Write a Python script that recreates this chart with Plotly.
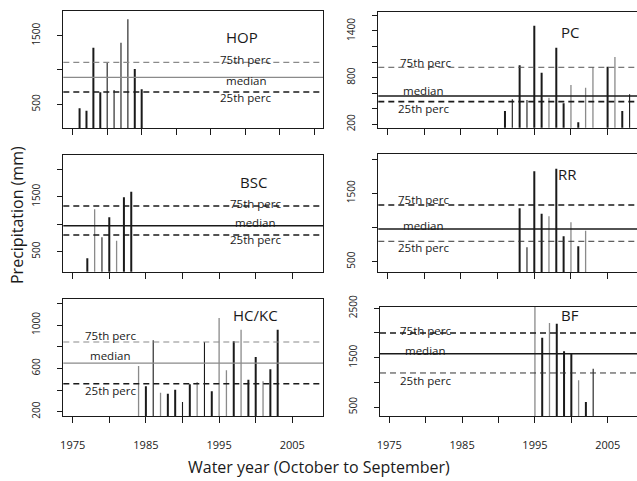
import plotly.graph_objects as go

W, H = 637, 481

# ---------------- data ----------------
hop_years = list(range(1976, 1986))
hop_precip = [442, 407, 1325, 675, 1112, 708, 1398, 1739, 1015, 719]
hop_kind = [0, 0, 0, 0, 1, 1, 1, 1, 0, 0]
hop_pct = [680, 893, 1112]          # 25th, median, 75th

pc_years = list(range(1991, 2004)) + [2005, 2006, 2007, 2008]
pc_precip = [371, 521, 959, 513, 1468, 864, 540, 1185, 470, 705, 226, 671, 933, 941, 1066, 371, 586]
pc_kind = [0, 1, 0, 1, 0, 0, 2, 0, 0, 2, 0, 2, 2, 0, 2, 0, 1]
pc_pct = [491, 564, 933]

bsc_years = list(range(1977, 1984))
bsc_precip = [380, 1271, 762, 1125, 700, 1489, 1591]
bsc_kind = [0, 2, 1, 0, 2, 0, 0]
bsc_pct = [804, 973, 1331]

rr_years = list(range(1993, 2003))
rr_precip = [1281, 711, 1822, 1202, 1164, 1860, 871, 1076, 725, 953]
rr_kind = [0, 1, 0, 0, 2, 0, 0, 2, 0, 2]
rr_pct = [798, 978, 1329]

hckc_years = list(range(1984, 2004))
hckc_precip = [621, 434, 859, 375, 366, 403, 289, 452, 474, 843,
               388, 1065, 582, 850, 957, 495, 705, 480, 591, 957]
hckc_kind = [2, 0, 1, 2, 0, 0, 1, 0, 2, 1, 0, 2, 2, 0, 2, 0, 0, 2, 0, 0]
hckc_pct = [458, 649, 843]

bf_years = list(range(1995, 2004))
bf_precip = [2550, 1904, 2201, 2187, 1629, 1581, 1043, 605, 1278]
bf_kind = [2, 0, 2, 0, 0, 0, 2, 0, 1]
bf_pct = [1191, 1581, 1999]

x_tickvals = [1975, 1980, 1985, 1990, 1995, 2000, 2005, 2010]
x_ticktext = ["1975", "", "1985", "", "1995", "", "2005", ""]
pct_labels = ["25th perc", "median", "75th perc"]

# ---------------- helpers ----------------
def px_x(p):
    return p / W

def px_y(p):
    return 1 - p / H

FONT = "Open Sans"
BLACK = "#1a1a1a"
GRAY = "#8a8a8a"
kind_style = {0: (BLACK, 2.0), 1: (BLACK, 1.1), 2: (GRAY, 1.3)}

panels = [
    dict(name="HOP", years=hop_years, vals=hop_precip, kind=hop_kind, pct=hop_pct,
         dx=(63.3, 323), dy=(10.7, 128.3), xr=(1973.64, 2011.28), yr=(150, 1864),
         yt=[500, 1000, 1500], ytl=["500", "", "1500"], right=False, bottom=False,
         lines=[(BLACK, "6px,4px", 1.5), (GRAY, "solid", 1.2), (GRAY, "6px,4px", 1.2)],
         title=(241.7, 36.7), labs=[(245, 97.7), (246.7, 81), (245, 59)]),
    dict(name="PC", years=pc_years, vals=pc_precip, kind=pc_kind, pct=pc_pct,
         dx=(378.3, 637), dy=(11.7, 127.7), xr=(1973.72, 2009.01), yr=(156, 1648),
         yt=[200, 400, 600, 800, 1000, 1200, 1400, 1600],
         ytl=["200", "", "", "800", "", "", "1400", ""], right=True, bottom=False,
         lines=[(BLACK, "6px,4px", 1.6), (BLACK, "solid", 1.6), ("#555555", "6px,4px", 1.0)],
         title=(570, 31.7), labs=[(423.3, 108.3), (423.3, 90), (425, 62.3)]),
    dict(name="BSC", years=bsc_years, vals=bsc_precip, kind=bsc_kind, pct=bsc_pct,
         dx=(63.3, 323), dy=(155, 271.7), xr=(1973.72, 2009.19), yr=(136, 2258),
         yt=[500, 1000, 1500, 2000], ytl=["500", "", "1500", ""], right=False, bottom=False,
         lines=[(BLACK, "6px,4px", 1.5), (BLACK, "solid", 1.5), (BLACK, "6px,4px", 1.5)],
         title=(253.3, 182.3), labs=[(255, 239.3), (255, 222.3), (255, 203.3)]),
    dict(name="RR", years=rr_years, vals=rr_precip, kind=rr_kind, pct=rr_pct,
         dx=(378.3, 637), dy=(154.3, 272), xr=(1973.72, 2009.01), yr=(349, 2070),
         yt=[500, 1000, 1500, 2000], ytl=["500", "", "1500", ""], right=True, bottom=False,
         lines=[("#333333", "6px,4px", 1.0), (BLACK, "solid", 1.5), (BLACK, "6px,4px", 1.5)],
         title=(567.3, 174), labs=[(423.3, 247.3), (423.3, 225), (423.3, 199.3)]),
    dict(name="HC/KC", years=hckc_years, vals=hckc_precip, kind=hckc_kind, pct=hckc_pct,
         dx=(63.3, 323), dy=(299, 416), xr=(1973.72, 2009.19), yr=(160, 1240),
         yt=[200, 400, 600, 800, 1000, 1200], ytl=["200", "", "600", "", "1000", ""],
         right=False, bottom=True,
         lines=[(BLACK, "6px,4px", 1.5), (GRAY, "solid", 1.2), (GRAY, "6px,4px", 1.2)],
         title=(255, 315), labs=[(110, 390), (110, 355.7), (110, 335.7)]),
    dict(name="BF", years=bf_years, vals=bf_precip, kind=bf_kind, pct=bf_pct,
         dx=(380, 637), dy=(306.7, 416), xr=(1973.72, 2009.02), yr=(322, 2530),
         yt=[500, 1000, 1500, 2000, 2500], ytl=["500", "", "1500", "", "2500"],
         right=True, bottom=True,
         lines=[("#333333", "6px,4px", 1.0), (BLACK, "solid", 1.5), (BLACK, "6px,4px", 1.5)],
         title=(570, 314.7), labs=[(425, 380), (425, 350), (425, 330)]),
]

fig = go.Figure()
layout = dict(
    width=W, height=H, margin=dict(l=0, r=0, t=0, b=0, pad=0, autoexpand=False),
    paper_bgcolor="white", plot_bgcolor="white", showlegend=False,
    font=dict(family=FONT, color=BLACK),
)
shapes = []
annotations = []


def label(text, x, y, size, angle=0):
    return dict(text=text, x=px_x(x), y=px_y(y), xref="paper", yref="paper",
                xanchor="center", yanchor="middle", showarrow=False, textangle=angle,
                font=dict(size=size, family=FONT, color=BLACK))


for i, p in enumerate(panels, start=1):
    xa = "x" if i == 1 else f"x{i}"
    ya = "y" if i == 1 else f"y{i}"
    xkey = "xaxis" if i == 1 else f"xaxis{i}"
    ykey = "yaxis" if i == 1 else f"yaxis{i}"

    # bars as vertical lines (type = 'h')
    for k in (2, 1, 0):
        xs, ys = [], []
        for yr_, v, kk in zip(p["years"], p["vals"], p["kind"]):
            if kk == k:
                xs += [yr_, yr_, None]
                ys += [0, v, None]
        if xs:
            col, w = kind_style[k]
            fig.add_trace(go.Scatter(x=xs, y=ys, mode="lines", xaxis=xa, yaxis=ya,
                                     line=dict(color=col, width=w), hoverinfo="skip"))

    # percentile lines
    for val, (col, dash, w) in zip(p["pct"], p["lines"]):
        shapes.append(dict(type="line", xref=f"{xa} domain", yref=ya, x0=0, x1=1,
                           y0=val, y1=val, line=dict(color=col, dash=dash, width=w), layer="above"))

    layout[xkey] = dict(
        domain=[px_x(p["dx"][0]), px_x(p["dx"][1])], anchor=ya, range=list(p["xr"]),
        automargin=False,
        showgrid=False, zeroline=False, showline=True, mirror=True,
        linecolor=BLACK, linewidth=1.2, ticks="outside", ticklen=6, tickwidth=1.2,
        tickcolor=BLACK, tickvals=x_tickvals,
        ticktext=x_ticktext if p["bottom"] else [""] * len(x_tickvals),
        tickfont=dict(size=11, color="#222222", family=FONT), ticklabelstandoff=13,
    )
    layout[ykey] = dict(
        domain=[px_y(p["dy"][1]), px_y(p["dy"][0])], anchor=xa, range=list(p["yr"]),
        automargin=False,
        showgrid=False, zeroline=False, showline=True, mirror=not p["right"],
        linecolor=BLACK, linewidth=1.2, ticks="outside", ticklen=5, tickwidth=1.2,
        tickcolor=BLACK, tickvals=p["yt"], ticktext=p["ytl"], tickangle=-90,
        tickfont=dict(size=10, color="#222222", family=FONT), ticklabelstandoff=13,
    )

    tx, ty = p["title"]
    annotations.append(label(p["name"], tx, ty, 15))
    for lab, (lx, ly) in zip(pct_labels, p["labs"]):
        annotations.append(label(lab, lx, ly, 11.5))

annotations.append(label("Precipitation (mm)", 17, 215, 16, -90))
annotations.append(label("Water year (October to September)", 319, 467, 16))

layout["shapes"] = shapes
layout["annotations"] = annotations
fig.update_layout(**layout)
fig.write_html(
    "out.html",
    config={"displayModeBar": False},
    post_script="document.body.style.margin='0';document.body.style.overflow='hidden';",
)
